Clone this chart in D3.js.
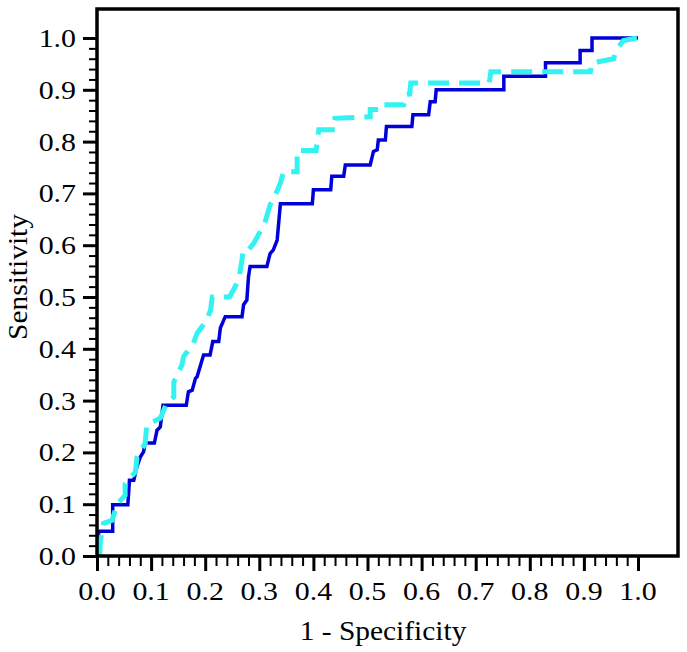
<!DOCTYPE html>
<html>
<head>
<meta charset="utf-8">
<script src="https://cdn.jsdelivr.net/npm/d3@7"></script>
<style>
  body { margin: 0; background: #fff; }
  svg { display: block; }
</style>
</head>
<body>
<svg id="roc"></svg>
<script>
// ROC curve steps: [1 - specificity, sensitivity]
const solidCurve = [
  [0.002, 0], [0.003, 0.048], [0.029, 0.048], [0.029, 0.099], [0.057, 0.099],
  [0.060, 0.146], [0.068, 0.146], [0.074, 0.173], [0.080, 0.191], [0.086, 0.201],
  [0.089, 0.218], [0.106, 0.218], [0.111, 0.243], [0.117, 0.249], [0.122, 0.291],
  [0.165, 0.291], [0.169, 0.317], [0.176, 0.320], [0.182, 0.343], [0.185, 0.346],
  [0.197, 0.388], [0.209, 0.388], [0.214, 0.414], [0.225, 0.414], [0.228, 0.440],
  [0.237, 0.462], [0.268, 0.462], [0.271, 0.485], [0.277, 0.494], [0.280, 0.539],
  [0.283, 0.559], [0.314, 0.559], [0.320, 0.584], [0.326, 0.591], [0.333, 0.610],
  [0.339, 0.680], [0.398, 0.680], [0.400, 0.707], [0.432, 0.707], [0.434, 0.733],
  [0.456, 0.733], [0.459, 0.755], [0.505, 0.755], [0.511, 0.781], [0.518, 0.784],
  [0.520, 0.803], [0.533, 0.803], [0.535, 0.829], [0.582, 0.829], [0.584, 0.852],
  [0.613, 0.852], [0.616, 0.877], [0.625, 0.877], [0.627, 0.900], [0.752, 0.900],
  [0.752, 0.926], [0.829, 0.926], [0.829, 0.952], [0.893, 0.952], [0.893, 0.976],
  [0.915, 0.976], [0.915, 1.0], [1.0, 1.0]
];

const dashedCurve = [
  [0.005, 0], [0.006, 0.027], [0.012, 0.063], [0.028, 0.069], [0.037, 0.100],
  [0.052, 0.117], [0.052, 0.140], [0.071, 0.162], [0.074, 0.191], [0.089, 0.217],
  [0.092, 0.253], [0.117, 0.266], [0.129, 0.295], [0.142, 0.307], [0.142, 0.336],
  [0.157, 0.369], [0.160, 0.385], [0.178, 0.410], [0.185, 0.430], [0.203, 0.455],
  [0.210, 0.475], [0.213, 0.500], [0.245, 0.500], [0.262, 0.533], [0.268, 0.571],
  [0.270, 0.591], [0.280, 0.591], [0.290, 0.604], [0.305, 0.633], [0.311, 0.646],
  [0.320, 0.678], [0.326, 0.687], [0.339, 0.720], [0.345, 0.742], [0.370, 0.742],
  [0.370, 0.783], [0.405, 0.783], [0.407, 0.800], [0.410, 0.823], [0.440, 0.823],
  [0.440, 0.845], [0.505, 0.848], [0.505, 0.862], [0.520, 0.862], [0.522, 0.871],
  [0.567, 0.871], [0.570, 0.890], [0.578, 0.892], [0.580, 0.913], [0.725, 0.913],
  [0.728, 0.935], [0.912, 0.935], [0.915, 0.952], [0.955, 0.960], [0.960, 0.977],
  [0.973, 0.995], [0.998, 1.0]
];

const majorTicks = [0, 0.1, 0.2, 0.3, 0.4, 0.5, 0.6, 0.7, 0.8, 0.9, 1.0];
const minorTicks = d3.range(0, 51).map((i) => i / 50).filter((v) => Math.round(v * 50) % 5 !== 0);
const xTitle = "1 - Specificity";
const yTitle = "Sensitivity";

const width = 687;
const height = 652;
const serif = "'Liberation Serif', 'Times New Roman', Times, serif";

// frame and axis placement
const left = 97, bottom = 556, frameRight = 678, frameTop = 9;
const xEnd = 638, yEnd = 38;

const svg = d3.select("#roc").attr("width", width).attr("height", height);

const x = d3.scaleLinear().domain([0, 1]).range([left, xEnd]);
const y = d3.scaleLinear().domain([0, 1]).range([bottom, yEnd]);

const line = d3.line().x((d) => x(d[0])).y((d) => y(d[1]));

svg.append("path")
  .datum(solidCurve)
  .attr("d", line)
  .attr("fill", "none")
  .attr("stroke", "#0000d8")
  .attr("stroke-width", 3.5)
  .attr("stroke-linejoin", "miter");

svg.append("path")
  .datum(dashedCurve)
  .attr("d", line)
  .attr("fill", "none")
  .attr("stroke", "#33f2f2")
  .attr("stroke-width", 5)
  .attr("stroke-dasharray", "21,10")
  .attr("stroke-linejoin", "miter");

// axes: ticks only, labels drawn by hand so they can be stretched a bit
const xMinor = svg.append("g")
  .attr("transform", `translate(0,${bottom})`)
  .call(d3.axisBottom(x).tickValues(minorTicks).tickSize(10).tickFormat(""));
const xMajor = svg.append("g")
  .attr("transform", `translate(0,${bottom})`)
  .call(d3.axisBottom(x).tickValues(majorTicks).tickSize(15).tickFormat(""));
const yMinor = svg.append("g")
  .attr("transform", `translate(${left},0)`)
  .call(d3.axisLeft(y).tickValues(minorTicks).tickSize(8).tickFormat(""));
const yMajor = svg.append("g")
  .attr("transform", `translate(${left},0)`)
  .call(d3.axisLeft(y).tickValues(majorTicks).tickSize(14).tickFormat(""));

[xMinor, xMajor, yMinor, yMajor].forEach((g) => g.select(".domain").remove());
[xMinor, yMinor].forEach((g) => g.selectAll(".tick line").attr("stroke", "#000").attr("stroke-width", 2));
[xMajor, yMajor].forEach((g) => g.selectAll(".tick line").attr("stroke", "#000").attr("stroke-width", 3));

// frame
svg.append("rect")
  .attr("x", left)
  .attr("y", frameTop)
  .attr("width", frameRight - left)
  .attr("height", bottom - frameTop)
  .attr("fill", "none")
  .attr("stroke", "#000")
  .attr("stroke-width", 3.5);

svg.append("g")
  .selectAll("text")
  .data(majorTicks)
  .join("text")
  .attr("font-family", serif)
  .attr("font-size", 26)
  .attr("text-anchor", "middle")
  .attr("transform", (d) => `translate(${x(d)},600) scale(1.15,1)`)
  .text((d) => d.toFixed(1));

svg.append("g")
  .selectAll("text")
  .data(majorTicks)
  .join("text")
  .attr("font-family", serif)
  .attr("font-size", 26)
  .attr("text-anchor", "end")
  .attr("transform", (d) => `translate(76,${y(d) + 9}) scale(1.15,1)`)
  .text((d) => d.toFixed(1));

svg.append("text")
  .attr("font-family", serif)
  .attr("font-size", 27)
  .attr("text-anchor", "middle")
  .attr("transform", `translate(383,640) scale(1.09,1)`)
  .text(xTitle);

svg.append("text")
  .attr("font-family", serif)
  .attr("font-size", 27)
  .attr("text-anchor", "middle")
  .attr("transform", `translate(27,277) rotate(-90) scale(1.09,1)`)
  .text(yTitle);
</script>
</body>
</html>
